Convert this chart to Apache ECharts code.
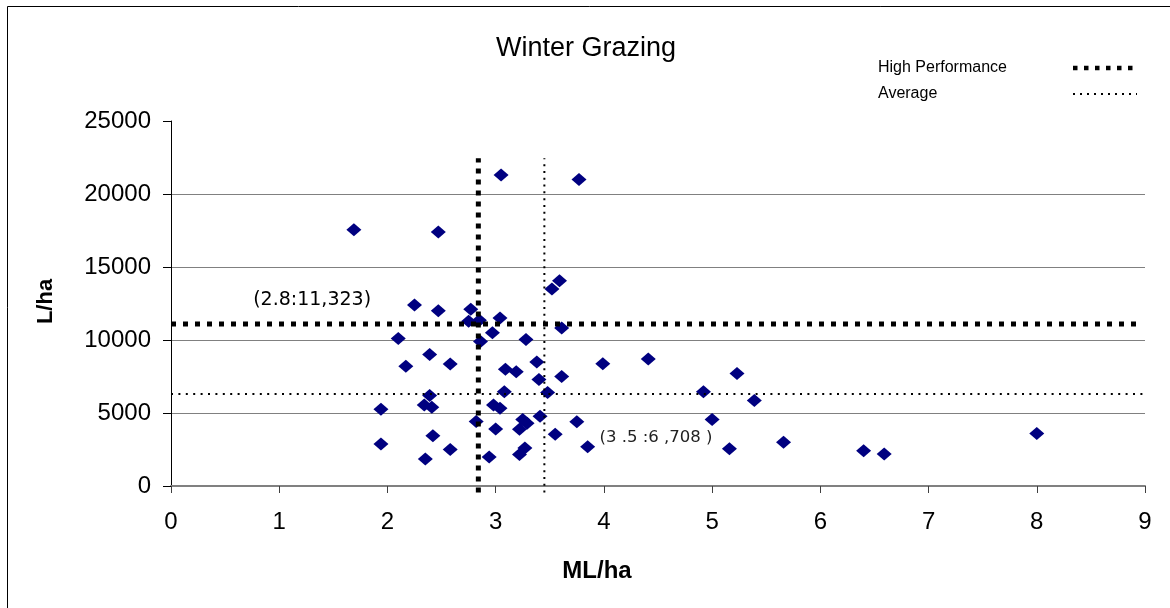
<!DOCTYPE html>
<html>
<head>
<meta charset="utf-8">
<script src="https://cdn.jsdelivr.net/npm/echarts@6/dist/echarts.min.js"></script>
<style>
html,body{margin:0;padding:0;background:#fff;}
#chart{width:1170px;height:608px;}
</style>
</head>
<body>
<div id="chart"></div>
<script>
// ---- data ----
const title = 'Winter Grazing';
const xName = 'ML/ha';
const yName = 'L/ha';
const xTicks = [0, 9, 1];          // min, max, interval
const yTicks = [0, 25000, 5000];   // min, max, interval

// scatter points: [ML/ha, L/ha]
const points = [
  [1.69,17550],[2.47,17400],[3.05,21300],[3.77,21000],[3.59,14050],[3.52,13500],
  [2.25,12400],[2.47,12000],[2.77,12100],[2.75,11280],[2.85,11350],[3.04,11500],
  [3.61,10820],[2.97,10500],[2.10,10100],[2.86,9900],[3.28,10030],[2.39,9000],
  [2.17,8200],[2.58,8350],[3.09,8000],[3.19,7820],[3.38,8500],[3.40,7300],
  [3.61,7500],[3.99,8380],[4.41,8700],[5.23,7700],[3.08,6450],[3.48,6400],
  [4.92,6450],[2.39,6200],[2.34,5550],[2.41,5400],[1.94,5250],[2.98,5550],
  [3.04,5330],[5.39,5850],[3.41,4780],[2.82,4420],[3.25,4560],[3.29,4290],
  [3.22,3880],[3.00,3900],[3.75,4400],[5.00,4550],[3.55,3550],[2.42,3450],
  [1.94,2880],[2.58,2500],[3.27,2600],[3.22,2150],[3.85,2680],[2.94,1980],
  [2.35,1850],[5.16,2550],[5.66,3000],[6.40,2420],[6.59,2200],[8.00,3600]
];

// reference lines
const hpName = 'High Performance';
const avgName = 'Average';
const hpX = 2.84, hpY = 11100;
const avgX = 3.45, avgY = 6300;
const vLineSpan = [-450, 22450];  // y extent of vertical reference lines
const hpHSpan = [0, 8.93];        // x extent of horizontal HP line
const avgHSpan = [0, 8.98];       // x extent of horizontal average line

// annotation labels: [x, y, text]
const notes = [
  [0.75, 12760, '(2.8:11,323)'],
  [3.95, 3276, '(3 .5 :6 ,708 )']
];
const noteFonts = [19, 16.5];

// ---- chart ----
const chart = echarts.init(document.getElementById('chart'), null, {renderer: 'canvas'});
const hpStyleH = {color: '#000', width: 5, type: [5, 7], cap: 'butt'};
const hpStyleV = {color: '#000', width: 5, type: [5, 6], cap: 'butt'};
const avgStyleH = {color: '#000', width: 2, type: [2, 5.4], cap: 'butt'};
const avgStyleV = {color: '#000', width: 2, type: [2, 4.8], cap: 'butt'};

const option = {
  animation: false,
  backgroundColor: '#fff',
  title: {
    text: title, left: 496, top: 35, padding: 0,
    textStyle: {fontFamily: 'Liberation Sans', fontSize: 27, fontWeight: 'normal', color: '#000'}
  },
  legend: {
    orient: 'vertical', left: 878, top: 60, padding: 0, align: 'right',
    itemWidth: 64, itemHeight: 6, itemGap: 10,
    selectedMode: false,
    formatter: name => '{t|' + name + '}',
    textStyle: {
      fontFamily: 'Liberation Sans', fontSize: 16, color: '#000', lineHeight: 16,
      rich: {t: {width: 190, align: 'left', fontFamily: 'Liberation Sans', fontSize: 16, color: '#000', lineHeight: 16}}
    },
    itemStyle: {color: 'rgba(0,0,0,0)', borderColor: 'rgba(0,0,0,0)', borderWidth: 0},
    data: [
      {name: hpName, lineStyle: {color: '#000', width: 4.5, type: [4.5, 6.5], cap: 'butt'}},
      {name: avgName, lineStyle: {color: '#000', width: 2, type: [2, 5], cap: 'butt'}}
    ]
  },
  grid: {left: 171, right: 25, top: 121, bottom: 122, containLabel: false},
  xAxis: {
    type: 'value', min: xTicks[0], max: xTicks[1], interval: xTicks[2],
    name: xName, nameLocation: 'middle', nameGap: 73,
    nameTextStyle: {fontFamily: 'Liberation Sans', fontSize: 24, fontWeight: 'bold', color: '#000', padding: [0, 122, 0, 0]},
    axisLine: {show: true, onZero: false, lineStyle: {color: '#808080', width: 2}},
    axisTick: {show: true, length: 7, lineStyle: {color: '#404040', width: 1}},
    axisLabel: {margin: 24, fontFamily: 'Liberation Sans', fontSize: 24, color: '#000'},
    splitLine: {show: false}
  },
  yAxis: {
    type: 'value', min: yTicks[0], max: yTicks[1], interval: yTicks[2],
    name: yName, nameLocation: 'middle', nameGap: 114, nameRotate: 90,
    nameTextStyle: {fontFamily: 'Liberation Sans', fontSize: 22, fontWeight: 'bold', color: '#000', padding: [0, 0, 0, 4]},
    axisLine: {show: true, onZero: false, lineStyle: {color: '#000', width: 1}},
    axisTick: {show: true, length: 8, lineStyle: {color: '#000', width: 1}},
    axisLabel: {margin: 20, fontFamily: 'Liberation Sans', fontSize: 24, color: '#000', formatter: v => String(v)},
    splitLine: {show: true, showMaxLine: false, lineStyle: {color: '#808080', width: 1}}
  },
  graphic: [{
    type: 'rect', silent: true, z: -1,
    shape: {x: 7.5, y: 6.5, width: 1300, height: 800},
    style: {fill: null, stroke: '#000', lineWidth: 1}
  }],
  series: [
    {
      type: 'scatter', name: 'data', z: 2,
      symbol: 'diamond', symbolSize: [15, 13],
      itemStyle: {color: '#000080', opacity: 1},
      data: points
    },
    {
      type: 'line', name: hpName, z: 4, symbol: 'none', clip: false, silent: true,
      lineStyle: hpStyleV,
      data: [[hpX, vLineSpan[0]], [hpX, vLineSpan[1]]]
    },
    {
      type: 'line', name: hpName, z: 4, symbol: 'none', clip: false, silent: true,
      lineStyle: hpStyleH,
      data: [[hpHSpan[0], hpY], [hpHSpan[1], hpY]]
    },
    {
      type: 'line', name: avgName, z: 4, symbol: 'none', clip: false, silent: true,
      lineStyle: avgStyleV,
      data: [[avgX, vLineSpan[0]], [avgX, vLineSpan[1]]]
    },
    {
      type: 'line', name: avgName, z: 4, symbol: 'none', clip: false, silent: true,
      lineStyle: avgStyleH,
      data: [[avgHSpan[0], avgY], [avgHSpan[1], avgY]]
    },
    {
      type: 'scatter', name: 'notes', z: 5, silent: true,
      symbol: 'circle', symbolSize: 2,
      itemStyle: {color: 'rgba(0,0,0,0)', opacity: 1},
      data: notes.map((n, i) => ({
        value: [n[0], n[1]],
        label: {
          show: true, position: 'right', distance: 0, formatter: n[2],
          fontFamily: 'DejaVu Sans', fontSize: noteFonts[i],
          color: i === 0 ? '#000' : '#222'
        }
      }))
    }
  ]
};
chart.setOption(option);
</script>
</body>
</html>
